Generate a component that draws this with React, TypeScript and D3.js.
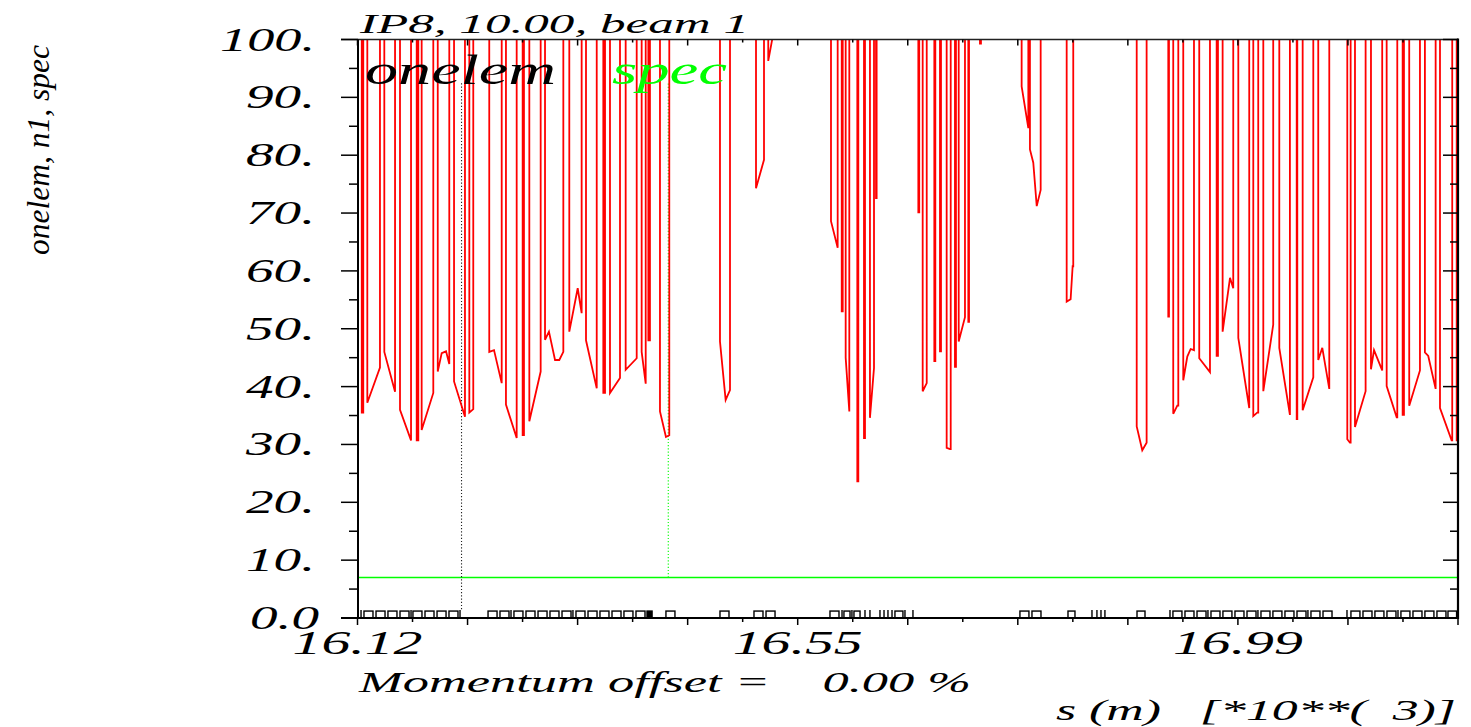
import React from 'react';
import * as d3 from 'd3';

// n1 value used by the optics table for drifts (far above the plotted range)
const OFF_SCALE = 1000;

// aperture dips: points [s (km), n1] inside each element
const n1Dips: [number, number][][] = [
  [[16.1242, 35.5], [16.1257, 35.5]],
  [[16.1297, 37.2], [16.1422, 43.3]],
  [[16.1465, 46.0], [16.1571, 39.1]],
  [[16.162, 36.0], [16.1729, 30.7]],
  [[16.1785, 30.7], [16.1801, 30.7]],
  [[16.1834, 32.5], [16.1949, 38.9]],
  [[16.1993, 42.6], [16.2032, 45.8], [16.2075, 46.1], [16.2107, 43.9]],
  [[16.2154, 40.9], [16.2262, 34.8]],
  [[16.2305, 35.5], [16.2344, 36.1]],
  [[16.2502, 46.0], [16.2549, 46.3], [16.2625, 40.6]],
  [[16.2667, 36.9], [16.2773, 31.1]],
  [[16.2832, 31.6], [16.2845, 31.6]],
  [[16.2898, 34.0], [16.301, 42.6]],
  [[16.3053, 48.1], [16.3092, 49.5], [16.3152, 44.6], [16.3194, 44.6], [16.3234, 46.0]],
  [[16.3293, 49.5], [16.3376, 57.0], [16.3415, 52.7]],
  [[16.3458, 48.0], [16.3564, 39.7]],
  [[16.3629, 38.9], [16.3646, 38.9]],
  [[16.3695, 38.9], [16.3794, 41.5]],
  [[16.385, 42.9], [16.3959, 44.9]],
  [[16.4008, 46.0], [16.4048, 40.5]],
  [[16.4074, 48.0], [16.409, 48.0]],
  [[16.4189, 35.7], [16.4248, 31.3], [16.4281, 31.6]],
  [[16.4782, 47.8], [16.4838, 37.7], [16.4881, 39.4]],
  [[16.5138, 74.3], [16.5217, 79.2]],
  [[16.5259, 96.3], [16.5303, 100.5]],
  [[16.5879, 68.6], [16.5945, 64.0]],
  [[16.5985, 53.0], [16.5995, 53.0]],
  [[16.6024, 45.0], [16.606, 35.7]],
  [[16.6139, 23.6], [16.6149, 23.6]],
  [[16.6205, 31.1], [16.6215, 31.1]],
  [[16.6264, 34.6], [16.6304, 43.2]],
  [[16.6324, 72.6], [16.633, 72.6]],
  [[16.6742, 70.1], [16.6751, 70.1]],
  [[16.6785, 39.2], [16.6825, 40.6]],
  [[16.69, 44.4], [16.691, 44.4]],
  [[16.6956, 46.1], [16.6966, 46.1]],
  [[16.7022, 29.4], [16.7055, 29.2], [16.7062, 29.2]],
  [[16.7104, 43.4], [16.7114, 43.4]],
  [[16.7141, 47.8], [16.7203, 52.0]],
  [[16.7236, 51.2], [16.7243, 51.2]],
  [[16.7351, 99.3], [16.7361, 99.3]],
  [[16.7763, 91.9], [16.7829, 84.7]],
  [[16.7845, 81.0], [16.7878, 78.7], [16.7912, 71.2], [16.7951, 74.0]],
  [[16.8208, 54.7], [16.8247, 55.1], [16.8267, 60.8], [16.8273, 60.8]],
  [[16.89, 33.1], [16.8955, 29.0], [16.8998, 30.3]],
  [[16.9212, 52.1], [16.9219, 52.1]],
  [[16.9261, 35.3], [16.9301, 36.7], [16.9311, 36.7]],
  [[16.936, 41.1], [16.94, 45.2], [16.9433, 46.5], [16.9466, 46.3]],
  [[16.9518, 44.9], [16.9624, 42.5]],
  [[16.969, 45.3], [16.9703, 45.3]],
  [[16.9749, 49.5], [16.9822, 58.8], [16.9854, 57.0]],
  [[16.9904, 48.4], [17.0012, 36.3]],
  [[17.0052, 34.9], [17.0091, 35.5], [17.0101, 35.5]],
  [[17.0151, 39.2], [17.0249, 50.7]],
  [[17.0309, 46.7], [17.0414, 35.1]],
  [[17.0481, 34.4], [17.0487, 34.4]],
  [[17.054, 35.9], [17.0645, 41.6]],
  [[17.0694, 44.6], [17.0734, 46.7], [17.0803, 39.6]],
  [[17.0981, 30.9], [17.1007, 30.3], [17.1014, 30.3]],
  [[17.1057, 33.0], [17.1162, 39.2]],
  [[17.1215, 43.0], [17.1245, 46.3], [17.1326, 42.8]],
  [[17.137, 40.1], [17.1469, 34.7], [17.1475, 34.7]],
  [[17.1528, 35.1], [17.1541, 35.1]],
  [[17.1593, 36.7], [17.1699, 42.8]],
  [[17.1748, 45.9], [17.1781, 45.3], [17.1854, 39.6]],
  [[17.1897, 36.3], [17.2012, 30.7], [17.2018, 30.7]],
  [[17.2062, 30.7], [17.21, 30.7]],
];

const specLevel = 7.0;
const onelemMark = { s: 16.2228, lo: 1.5, hi: 92.7 };
const specMark = { s: 16.4271, lo: 7.0, hi: 92.7 };

// layout: element boxes [start s, length] and thin elements (s)
const elementBoxes: [number, number][] = [
  [16.1264, 0.0089], [16.1383, 0.0089], [16.1501, 0.0089], [16.162, 0.0089],
  [16.1748, 0.0089], [16.1867, 0.0089], [16.1986, 0.0089], [16.2104, 0.0089],
  [16.249, 0.0089], [16.2608, 0.0089], [16.2746, 0.0089], [16.2865, 0.0089],
  [16.2984, 0.0089], [16.3102, 0.0089], [16.3221, 0.0089], [16.3359, 0.0089],
  [16.3478, 0.0089], [16.3596, 0.0089], [16.3715, 0.0089], [16.3833, 0.0089],
  [16.3952, 0.0089], [16.4248, 0.0089], [16.4782, 0.0089], [16.5118, 0.0089],
  [16.5237, 0.0089], [16.5869, 0.0089], [16.6007, 0.006], [16.6106, 0.006],
  [16.6511, 0.0079], [16.7746, 0.0089], [16.7865, 0.0089], [16.8221, 0.0069],
  [16.8903, 0.0079], [16.9258, 0.0089], [16.9377, 0.0089], [16.9496, 0.0089],
  [16.9634, 0.0089], [16.9752, 0.0089], [16.9871, 0.0089], [16.999, 0.0089],
  [17.0128, 0.0089], [17.0246, 0.0089], [17.0365, 0.0089], [17.0484, 0.0089],
  [17.0622, 0.0089], [17.0741, 0.0089], [17.1017, 0.0089], [17.1136, 0.0089],
  [17.1254, 0.0089], [17.1373, 0.0089], [17.1511, 0.0089], [17.163, 0.0089],
  [17.1748, 0.0089], [17.1867, 0.0089], [17.1976, 0.0085],
];
const solidBoxes: [number, number][] = [[16.4061, 0.005]];
const thinElements = [
  16.1235, 16.1729, 16.2213, 16.2717, 16.3329, 16.5988, 16.6086, 16.6215, 16.6264,
  16.6363, 16.6403, 16.6442, 16.6482, 16.661, 16.6689, 16.8458, 16.8507, 16.8547,
  16.8586, 16.9229, 16.9604, 17.0098, 17.0592, 17.0978, 17.1482,
];
const elementHeight = 1.2;

const xDomain: [number, number] = [16.12, 17.2075];
const xTickStep = 0.054375;
const xTickCount = 20;
const xLabels = [
  { i: 0, text: '16.12' },
  { i: 8, text: '16.55' },
  { i: 16, text: '16.99' },
];
const yTicks = d3.range(0, 101, 5);

const title = 'IP8, 10.00, beam 1';
const yTitle = 'onelem, n1, spec';
const momentumText = 'Momentum offset =    0.00 %';
const sText = 's (m)   [*10**(  3)]';

const FONT = '"Liberation Serif", "DejaVu Serif", serif';
const RED = '#ff0000';
const GREEN = '#00ff00';

export default function App() {
  const L = 357.5, R = 1458, T = 39.5, B = 618;
  const x = d3.scaleLinear().domain(xDomain).range([L, R]);
  const y = d3.scaleLinear().domain([0, 100]).range([B, T]);

  const pts: [number, number][] = [];
  n1Dips.forEach((d) => {
    pts.push([d[0][0], OFF_SCALE]);
    d.forEach((p) => pts.push(p));
    pts.push([d[d.length - 1][0], OFF_SCALE]);
  });
  const line = d3.line<[number, number]>().x((d) => x(d[0])).y((d) => y(d[1]));

  const xTicks = d3.range(xTickCount + 1).map((i) => ({ i, s: xDomain[0] + i * xTickStep }));

  const yLabelWidth = (t: string) =>
    t.split('').reduce((a, c) => a + (c === '.' ? 17 : 26), 0);

  return (
    <svg
      width={1471}
      height={727}
      style={{ position: 'absolute', left: 0, top: 0, background: '#fff' }}
      fontFamily={FONT}
    >
      <defs>
        <clipPath id="plotClip">
          <rect x={L} y={T} width={R - L} height={B - T} />
        </clipPath>
      </defs>
      <rect x={0} y={0} width={1471} height={727} fill="#fff" />

      {/* title */}
      <text x={360} y={33} fontSize={27} fontStyle="italic" textLength={389} lengthAdjust="spacingAndGlyphs">
        {title}
      </text>

      {/* y axis title */}
      <text
        transform="translate(49,150) rotate(-90)"
        textAnchor="middle"
        fontSize={31}
        fontStyle="italic"
        textLength={210}
        lengthAdjust="spacingAndGlyphs"
      >
        {yTitle}
      </text>

      {/* spec level */}
      <line x1={x(xDomain[0])} x2={R} y1={y(specLevel)} y2={y(specLevel)} stroke={GREEN} strokeWidth={1.4} />

      {/* dotted markers */}
      <line
        x1={x(onelemMark.s)} x2={x(onelemMark.s)} y1={y(onelemMark.lo)} y2={y(onelemMark.hi)}
        stroke="#222" strokeWidth={1.1} strokeDasharray="1.2,2"
      />
      <line
        x1={x(specMark.s)} x2={x(specMark.s)} y1={y(specMark.lo)} y2={y(specMark.hi)}
        stroke={GREEN} strokeWidth={1.1} strokeDasharray="1.2,2"
      />

      {/* n1 curve */}
      <g clipPath="url(#plotClip)">
        <path d={line(pts) || ''} fill="none" stroke={RED} strokeWidth={1.8} strokeLinejoin="miter" />
      </g>

      {/* element layout */}
      <g stroke="#000" strokeWidth={1.4} fill="none">
        {elementBoxes.map(([s, l], i) => (
          <rect key={'b' + i} x={x(s)} y={y(elementHeight)} width={x(s + l) - x(s)} height={y(0) - y(elementHeight)} />
        ))}
        {solidBoxes.map(([s, l], i) => (
          <rect key={'sb' + i} x={x(s)} y={y(elementHeight)} width={x(s + l) - x(s)} height={y(0) - y(elementHeight)} fill="#000" />
        ))}
        {thinElements.map((s, i) => (
          <line key={'t' + i} x1={x(s)} x2={x(s)} y1={y(elementHeight) - 1} y2={y(0)} />
        ))}
      </g>

      {/* frame */}
      <line x1={341} x2={R} y1={T} y2={T} stroke="#222" strokeWidth={1.5} />
      <line x1={341} x2={R} y1={B} y2={B} stroke="#000" strokeWidth={1.8} />
      <line x1={358} x2={358} y1={T} y2={B} stroke="#000" strokeWidth={2} />
      <line x1={R} x2={R} y1={T - 1} y2={B + 1} stroke="#000" strokeWidth={2.2} />

      {/* y ticks */}
      {yTicks.map((v) => {
        const major = v % 10 === 0;
        return (
          <g key={'yt' + v} stroke="#000" strokeWidth={1.5}>
            <line x1={major ? 341 : 349} x2={358} y1={y(v)} y2={y(v)} />
            <line x1={major ? R - 15 : R - 8} x2={R} y1={y(v)} y2={y(v)} />
          </g>
        );
      })}
      {yTicks
        .filter((v) => v % 10 === 0)
        .map((v) => {
          const t = v === 0 ? '0.0' : `${v}.`;
          return (
            <text
              key={'yl' + v}
              x={v === 0 ? 319 : 315}
              y={y(v) + 11}
              textAnchor="end"
              fontSize={33}
              fontStyle="italic"
              textLength={yLabelWidth(t)}
              lengthAdjust="spacingAndGlyphs"
            >
              {t}
            </text>
          );
        })}

      {/* x ticks */}
      {xTicks.map(({ i, s }) => {
        const long = i % 2 === 0;
        return (
          <g key={'xt' + i} stroke="#000" strokeWidth={1.5}>
            <line x1={x(s)} x2={x(s)} y1={B} y2={B + (long ? 7 : 4)} />
            <line x1={x(s)} x2={x(s)} y1={T} y2={T + (long ? 6 : 3)} />
          </g>
        );
      })}
      {xLabels.map(({ i, text }) => (
        <text
          key={'xl' + i}
          x={x(xDomain[0] + i * xTickStep)}
          y={654}
          textAnchor="middle"
          fontSize={33}
          fontStyle="italic"
          textLength={130}
          lengthAdjust="spacingAndGlyphs"
        >
          {text}
        </text>
      ))}

      {/* legend */}
      <text x={365} y={84} fontSize={42} fontStyle="italic" textLength={191} lengthAdjust="spacingAndGlyphs">
        onelem
      </text>
      <text x={612} y={84} fontSize={42} fontStyle="italic" fill={GREEN} textLength={115} lengthAdjust="spacingAndGlyphs">
        spec
      </text>

      {/* bottom texts */}
      <text x={359} y={692} fontSize={30} fontStyle="italic" textLength={612} lengthAdjust="spacingAndGlyphs" style={{ whiteSpace: 'pre' }}>
        {momentumText}
      </text>
      <text x={1056} y={720} fontSize={30} fontStyle="italic" textLength={400} lengthAdjust="spacingAndGlyphs" style={{ whiteSpace: 'pre' }}>
        {sText}
      </text>
    </svg>
  );
}
